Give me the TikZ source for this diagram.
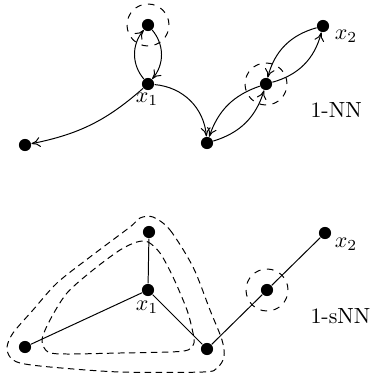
\documentclass[tikz,border=0pt]{standalone}
\usetikzlibrary{arrows.meta}
\begin{document}
\begin{tikzpicture}[x=0.016cm,y=-0.016cm,line width=0.45pt,
  dot/.style={circle,fill=black,inner sep=0pt,minimum size=0.195cm},
  ring/.style={draw,dashed,circle,inner sep=0pt,minimum size=0.672cm},
  arr/.style={-{To[length=4pt,width=4.5pt]}},
  lbl/.style={inner sep=0pt},
  hull/.style={dashed,dash pattern=on 3pt off 2pt}]
\useasboundingbox (0,0) rectangle (375,375);
% ---- top: 1-NN ----
\node[dot] (A)  at (148,25) {};
\node[dot] (X1) at (148,84) {};
\node[dot] (L)  at (25,145) {};
\node[dot] (B)  at (207,143) {};
\node[dot] (C)  at (266,84) {};
\node[dot] (X2) at (323,26) {};
\node[ring] (rA) at (A) {};
\node[ring] (rC) at (C) {};
\node[lbl] (lx1) at (147,99) {$x_1$};
\node[lbl] (lx2) at (346,36) {$x_2$};
\node[lbl,anchor=base west] (t1) at (310,118) {1-NN};
\draw[arr] (X1) to[bend left=40] (A);
\draw[arr] (A) to[bend left=40] (X1);
\draw[arr] (X1) to[bend left=15] (L);
\draw[arr] (X1) to[bend left=40] (B);
\draw[arr] (C) to[bend right=26] (B);
\draw[arr] (B) to[bend right=28] (C);
\draw[arr] (C) to[bend right=30] (X2);
\draw[arr] (X2) to[bend right=30] (C);
% ---- bottom: 1-sNN ----
\node[dot] (A2)  at (149,232) {};
\node[dot] (X1b) at (148,290) {};
\node[dot] (L2)  at (25,347) {};
\node[dot] (B2)  at (207,349) {};
\node[dot] (C2)  at (267,290) {};
\node[dot] (X2b) at (325,233) {};
\node[ring] (rC2) at (C2) {};
\node[lbl] (lx1b) at (147,307) {$x_1$};
\node[lbl] (lx2b) at (346,244) {$x_2$};
\node[lbl,anchor=base west] (t2) at (310,323) {1-sNN};
\draw (A2) -- (X1b);
\draw (X1b) -- (L2);
\draw (X1b) -- (B2);
\draw (B2) -- (C2);
\draw (C2) -- (X2b);
\draw[hull] plot[smooth cycle,tension=0.5] coordinates {
  (153,217) (170,230) (193,267) (210,310) (222,340) (224,357) (217,368) (203,372)
  (120,372) (50,367) (20,363) (10,357) (7,347) (13,333) (33,310) (57,283) (90,257) (130,227) (140,218)};
\draw[hull] plot[smooth cycle,tension=0.5] coordinates {
  (137,242) (148,242) (160,253) (173,277) (187,310) (193,333) (194,343) (188,350) (170,352)
  (120,353) (67,354) (48,352) (42,340) (50,320) (67,293) (93,270) (120,250)};
\end{tikzpicture}
\end{document}
